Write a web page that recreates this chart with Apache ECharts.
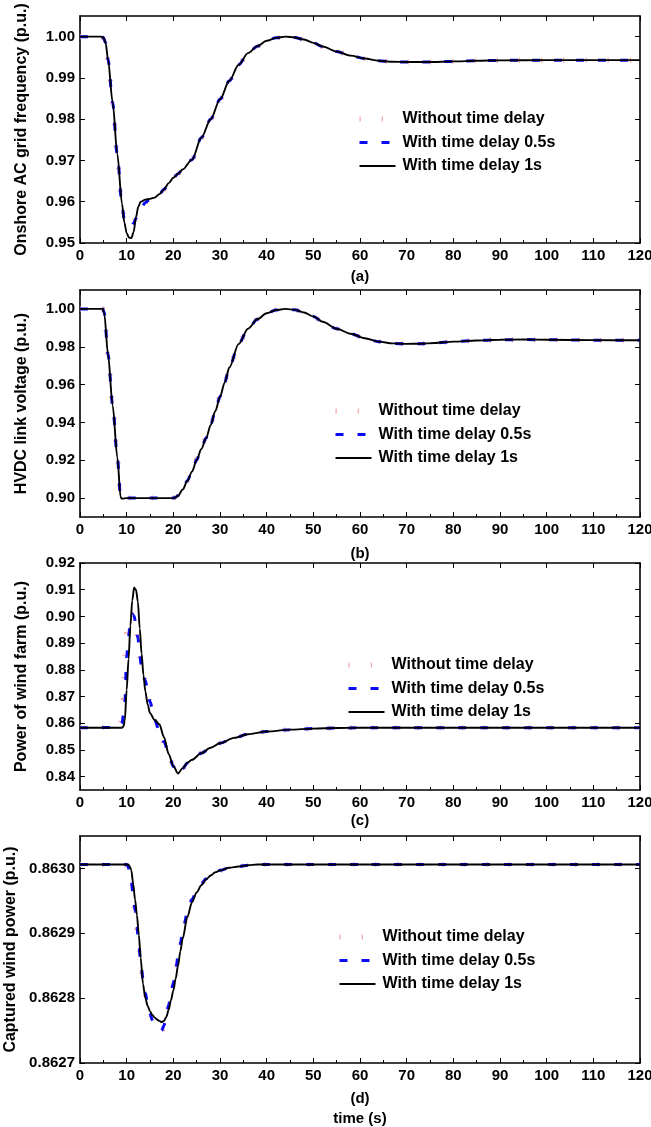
<!DOCTYPE html>
<html><head><meta charset="utf-8">
<script src="https://cdn.jsdelivr.net/npm/echarts@6/dist/echarts.min.js"></script>
<style>html,body{margin:0;padding:0;background:#fff}#c{width:651px;height:1127px}</style>
</head><body><div id="c"></div>
<script>
// ---------- DATA ----------
const seriesNames = ['Without time delay', 'With time delay 0.5s', 'With time delay 1s'];
const xTicks = [0, 10, 20, 30, 40, 50, 60, 70, 80, 90, 100, 110, 120];

// (a) Onshore AC grid frequency
const timeA = [0, 4.5, 5, 5.5, 6, 7, 8, 9, 9.5, 10, 10.5, 11, 11.5, 12, 12.5, 13, 14, 15, 16, 17, 18, 19, 20, 21, 22, 24, 26, 28, 30, 32, 34, 36, 38, 40, 42, 44, 46, 48, 50, 52, 55, 58, 61, 64, 67, 70, 75, 80, 85, 90, 100, 110, 120];
const freqDelay1 = [1.0000, 1.0000, 0.9998, 0.9985, 0.9945, 0.9840, 0.9715, 0.9595, 0.9550, 0.9524, 0.9513, 0.9512, 0.9527, 0.9563, 0.9588, 0.9600, 0.9605, 0.9607, 0.9610, 0.9618, 0.9630, 0.9645, 0.9658, 0.9668, 0.9678, 0.9702, 0.9755, 0.9800, 0.9848, 0.9893, 0.9932, 0.9960, 0.9977, 0.9990, 0.9997, 1.0000, 0.9998, 0.9993, 0.9985, 0.9976, 0.9964, 0.9954, 0.9947, 0.99415, 0.9939, 0.99385, 0.99385, 0.9940, 0.99415, 0.99425, 0.9943, 0.9943, 0.9943];
const freqDelay05 = [1.0000, 1.0000, 0.9998, 0.9985, 0.9945, 0.9840, 0.9712, 0.9592, 0.9556, 0.9546, 0.9541, 0.9542, 0.9548, 0.9560, 0.9572, 0.9583, 0.9598, 0.9606, 0.9610, 0.9618, 0.9630, 0.9645, 0.9658, 0.9668, 0.9678, 0.9702, 0.9755, 0.9800, 0.9848, 0.9893, 0.9932, 0.9960, 0.9977, 0.9990, 0.9997, 1.0000, 0.9998, 0.9993, 0.9985, 0.9976, 0.9964, 0.9954, 0.9947, 0.99415, 0.9939, 0.99385, 0.99385, 0.9940, 0.99415, 0.99425, 0.9943, 0.9943, 0.9943];
const freqNoDelay = [1.0000, 1.0000, 0.9997, 0.9983, 0.9942, 0.9838, 0.9710, 0.9590, 0.9558, 0.9548, 0.9544, 0.9545, 0.9551, 0.9562, 0.9574, 0.9585, 0.9599, 0.9606, 0.9610, 0.9618, 0.9630, 0.9645, 0.9658, 0.9668, 0.9678, 0.9702, 0.9755, 0.9800, 0.9848, 0.9893, 0.9932, 0.9960, 0.9977, 0.9990, 0.9997, 1.0000, 0.9998, 0.9993, 0.9985, 0.9976, 0.9964, 0.9954, 0.9947, 0.99415, 0.9939, 0.99385, 0.99385, 0.9940, 0.99415, 0.99425, 0.9943, 0.9943, 0.9943];
const freqTicks = [0.95, 0.96, 0.97, 0.98, 0.99, 1.00];

// (b) HVDC link voltage
const timeB = [0, 4.9, 5.2, 6, 7, 8, 8.7, 9, 10, 12, 14, 16, 18, 20, 20.5, 21, 22, 23, 24, 25, 26, 27, 28, 29, 30, 31, 32, 34, 36, 38, 40, 42, 44, 46, 48, 50, 52, 55, 58, 61, 64, 67, 70, 73, 76, 80, 85, 90, 95, 100, 110, 120];
const voltDelay1 = [1.0000, 1.0000, 0.9975, 0.9760, 0.9490, 0.9215, 0.9005, 0.8997, 0.9000, 0.9000, 0.9000, 0.9000, 0.9000, 0.9000, 0.9003, 0.9012, 0.9045, 0.9090, 0.9140, 0.9200, 0.9260, 0.9315, 0.9385, 0.9460, 0.9535, 0.9610, 0.9690, 0.9815, 0.9895, 0.9945, 0.9977, 0.9994, 1.0000, 0.9995, 0.9981, 0.9960, 0.9932, 0.9895, 0.9869, 0.9845, 0.9827, 0.9818, 0.9815, 0.9816, 0.9820, 0.9827, 0.9833, 0.9837, 0.9838, 0.9837, 0.9835, 0.9834];
const voltDelay05 = [1.0000, 1.0000, 0.9978, 0.9762, 0.9492, 0.9217, 0.9003, 0.9000, 0.9000, 0.9000, 0.9000, 0.9000, 0.9000, 0.9000, 0.9004, 0.9014, 0.9047, 0.9092, 0.9142, 0.9202, 0.9262, 0.9317, 0.9387, 0.9462, 0.9537, 0.9612, 0.9691, 0.9815, 0.9895, 0.9945, 0.9977, 0.9994, 1.0000, 0.9995, 0.9981, 0.9960, 0.9932, 0.9895, 0.9869, 0.9845, 0.9827, 0.9818, 0.9815, 0.9816, 0.9820, 0.9827, 0.9833, 0.9837, 0.9838, 0.9837, 0.9835, 0.9834];
const voltNoDelay = [1.0000, 1.0000, 0.9980, 0.9764, 0.9494, 0.9219, 0.9002, 0.9000, 0.9000, 0.9000, 0.9000, 0.9000, 0.9000, 0.9000, 0.9005, 0.9015, 0.9048, 0.9093, 0.9143, 0.9203, 0.9263, 0.9318, 0.9388, 0.9463, 0.9538, 0.9613, 0.9692, 0.9816, 0.9895, 0.9945, 0.9977, 0.9994, 1.0000, 0.9995, 0.9981, 0.9960, 0.9932, 0.9895, 0.9869, 0.9845, 0.9827, 0.9818, 0.9815, 0.9816, 0.9820, 0.9827, 0.9833, 0.9837, 0.9838, 0.9837, 0.9835, 0.9834];
const voltTicks = [0.90, 0.92, 0.94, 0.96, 0.98, 1.00];

// (c) Power of wind farm
const timeC = [0, 8.5, 9, 9.3, 9.6, 10, 10.4, 10.8, 11.2, 11.6, 12, 12.4, 12.8, 13.2, 13.6, 14, 14.5, 15, 16, 17, 18, 19, 20, 21, 22, 23, 24, 26, 28, 30, 33, 36, 40, 45, 50, 55, 60, 70, 80, 90, 100, 110, 120];
const powerDelay1 = [0.8583, 0.8583, 0.8583, 0.8588, 0.8610, 0.8725, 0.8840, 0.8965, 0.9060, 0.9108, 0.9100, 0.9055, 0.8955, 0.8860, 0.8780, 0.8720, 0.8670, 0.8638, 0.8612, 0.8596, 0.8548, 0.8485, 0.8440, 0.8412, 0.8432, 0.8452, 0.8463, 0.8488, 0.8508, 0.8525, 0.8545, 0.8559, 0.8569, 0.8576, 0.8580, 0.8582, 0.8583, 0.8583, 0.8583, 0.8583, 0.8583, 0.8583, 0.8583];
const powerDelay05 = [0.8583, 0.8584, 0.8600, 0.8630, 0.8676, 0.8850, 0.8923, 0.8985, 0.9008, 0.9002, 0.8965, 0.8920, 0.8852, 0.8812, 0.8786, 0.8760, 0.8722, 0.8680, 0.8612, 0.8570, 0.8530, 0.8488, 0.8438, 0.8412, 0.8430, 0.8451, 0.8463, 0.8488, 0.8508, 0.8525, 0.8545, 0.8559, 0.8569, 0.8576, 0.8580, 0.8582, 0.8583, 0.8583, 0.8583, 0.8583, 0.8583, 0.8583, 0.8583];
const powerNoDelay = [0.8583, 0.8586, 0.8620, 0.8690, 0.8860, 0.8940, 0.8990, 0.9012, 0.9010, 0.8985, 0.8945, 0.8905, 0.8848, 0.8812, 0.8786, 0.8760, 0.8722, 0.8680, 0.8610, 0.8565, 0.8527, 0.8485, 0.8437, 0.8412, 0.8430, 0.8451, 0.8463, 0.8488, 0.8508, 0.8525, 0.8545, 0.8559, 0.8569, 0.8576, 0.8580, 0.8582, 0.8583, 0.8583, 0.8583, 0.8583, 0.8583, 0.8583, 0.8583];
const powerTicks = [0.84, 0.85, 0.86, 0.87, 0.88, 0.89, 0.90, 0.91, 0.92];

// (d) Captured wind power
const timeD = [0, 10, 10.3, 10.6, 11, 11.4, 11.8, 12.2, 12.6, 13, 13.5, 14, 14.5, 15, 15.5, 16, 16.5, 17, 17.5, 18, 18.5, 19, 19.5, 20, 20.5, 21, 21.5, 22, 23, 24, 25, 26, 27, 28, 29, 30, 32, 34, 36, 38, 40, 50, 60, 80, 100, 120];
const captDelay1 = [0.863006, 0.863006, 0.863006, 0.863004, 0.862997, 0.862976, 0.862952, 0.862928, 0.862898, 0.862862, 0.862822, 0.862800, 0.862788, 0.862780, 0.862774, 0.862770, 0.862767, 0.862765, 0.862763, 0.862765, 0.862771, 0.862782, 0.862797, 0.862812, 0.862830, 0.862850, 0.862872, 0.862892, 0.862925, 0.862948, 0.862963, 0.862974, 0.862983, 0.862989, 0.862994, 0.862997, 0.863001, 0.863003, 0.863005, 0.863006, 0.863006, 0.863006, 0.863006, 0.863006, 0.863006, 0.863006];
const captDelay05 = [0.863006, 0.863006, 0.863003, 0.862996, 0.862980, 0.862958, 0.862935, 0.862910, 0.862882, 0.862856, 0.862830, 0.862808, 0.862790, 0.862776, 0.862766, 0.862759, 0.862755, 0.862752, 0.862750, 0.862758, 0.862773, 0.862790, 0.862806, 0.862824, 0.862843, 0.862864, 0.862884, 0.862902, 0.862932, 0.862952, 0.862966, 0.862976, 0.862984, 0.862990, 0.862994, 0.862997, 0.863001, 0.863003, 0.863005, 0.863006, 0.863006, 0.863006, 0.863006, 0.863006, 0.863006, 0.863006];
const captNoDelay = [0.863006, 0.863005, 0.863001, 0.862992, 0.862975, 0.862952, 0.862928, 0.862902, 0.862875, 0.862850, 0.862826, 0.862805, 0.862788, 0.862775, 0.862765, 0.862758, 0.862753, 0.862750, 0.862748, 0.862756, 0.862772, 0.862789, 0.862806, 0.862824, 0.862843, 0.862864, 0.862884, 0.862902, 0.862932, 0.862952, 0.862966, 0.862976, 0.862984, 0.862990, 0.862994, 0.862997, 0.863001, 0.863003, 0.863005, 0.863006, 0.863006, 0.863006, 0.863006, 0.863006, 0.863006, 0.863006];
const captTicks = [0.8627, 0.8628, 0.8629, 0.8630];

// ---------- LAYOUT / STYLE ----------
const FONT = '"Liberation Sans", Arial, Helvetica, sans-serif';
const panels = [
  { time: timeA, vals: [freqNoDelay, freqDelay05, freqDelay1], yMin: 0.95, yMax: 1.005, ticks: freqTicks, dec: 2,
    yName: 'Onshore AC grid frequency (p.u.)', xName: '(a)', top: 16, xGap: 24, legLeft: 357, legTop: 111 },
  { time: timeB, vals: [voltNoDelay, voltDelay05, voltDelay1], yMin: 0.89, yMax: 1.01, ticks: voltTicks, dec: 2,
    yName: 'HVDC link voltage (p.u.)', xName: '(b)', top: 290, xGap: 27, legLeft: 333, legTop: 403 },
  { time: timeC, vals: [powerNoDelay, powerDelay05, powerDelay1], yMin: 0.835, yMax: 0.92, ticks: powerTicks, dec: 2,
    yName: 'Power of wind farm (p.u.)', xName: '(c)', top: 563, xGap: 18, legLeft: 346, legTop: 657 },
  { time: timeD, vals: [captNoDelay, captDelay05, captDelay1], yMin: 0.8627, yMax: 0.86305, ticks: captTicks, dec: 4,
    yName: 'Captured wind power (p.u.)', xName: '(d)\ntime (s)', top: 836, xGap: 26, legLeft: 337, legTop: 929 }
];
const lineStyles = [
  { color: '#f4a2a2', width: 5, type: [1.2, 21], cap: 'butt' },
  { color: '#0a0af5', width: 3, type: [8, 14], cap: 'butt' },
  { color: '#000000', width: 1.9, type: 'solid' }
];
const axisLineStyle = { color: '#000', width: 1.6 };
const tickStyle = { color: '#000', width: 1 };

const grid = [], xAxis = [], yAxis = [], series = [], legend = [];
panels.forEach((p, i) => {
  grid.push({ left: 80, top: p.top, width: 560, height: 227, containLabel: false, outerBoundsMode: 'none' });
  xAxis.push({
    type: 'value', gridIndex: i, min: 0, max: 120, interval: 10, position: 'bottom',
    axisLine: { show: true, onZero: false, lineStyle: axisLineStyle },
    axisTick: { show: true, inside: true, length: 5, lineStyle: tickStyle, customValues: xTicks },
    minorTick: { show: true, splitNumber: 2, length: 3, lineStyle: tickStyle },
    splitLine: { show: false }, minorSplitLine: { show: false },
    axisLabel: { margin: 5, color: '#000', fontFamily: FONT, fontWeight: 'bold', fontSize: 15, customValues: xTicks },
    name: p.xName, nameLocation: 'middle', nameGap: p.xGap,
    nameTextStyle: { color: '#000', fontFamily: FONT, fontWeight: 'bold', fontSize: 15, lineHeight: 20, verticalAlign: 'top' }
  });
  xAxis.push({
    type: 'value', gridIndex: i, min: 0, max: 120, interval: 10, position: 'top',
    axisLine: { show: true, onZero: false, lineStyle: axisLineStyle },
    axisTick: { show: true, inside: true, length: 5, lineStyle: tickStyle, customValues: xTicks },
    axisLabel: { show: false }, splitLine: { show: false }
  });
  yAxis.push({
    type: 'value', gridIndex: i, min: p.yMin, max: p.yMax, position: 'left',
    axisLine: { show: true, onZero: false, lineStyle: axisLineStyle },
    axisTick: { show: true, inside: true, length: 5, lineStyle: tickStyle, customValues: p.ticks },
    splitLine: { show: false },
    axisLabel: { margin: 5, color: '#000', fontFamily: FONT, fontWeight: 'bold', fontSize: 15,
      customValues: p.ticks, formatter: (v) => Number(v).toFixed(p.dec) },
    name: p.yName, nameLocation: 'middle', nameRotate: 90, nameGap: 50,
    nameTextStyle: { color: '#000', fontFamily: FONT, fontWeight: 'bold', fontSize: 16 }
  });
  yAxis.push({
    type: 'value', gridIndex: i, min: p.yMin, max: p.yMax, position: 'right',
    axisLine: { show: true, onZero: false, lineStyle: axisLineStyle },
    axisTick: { show: true, inside: true, length: 5, lineStyle: tickStyle, customValues: p.ticks },
    axisLabel: { show: false }, splitLine: { show: false }
  });
  seriesNames.forEach((name, k) => {
    series.push({
      name, type: 'line', xAxisIndex: 2 * i, yAxisIndex: 2 * i,
      data: p.time.map((t, j) => [t, p.vals[k][j]]),
      smooth: 0.3, smoothMonotone: 'x', symbol: 'none', showSymbol: false,
      lineStyle: lineStyles[k], z: 2 + k, animation: false, silent: true
    });
  });
  legend.push({
    orient: 'vertical', left: p.legLeft, top: p.legTop, itemWidth: 36, itemHeight: 14, itemGap: 7.5,
    selectedMode: false, padding: 0,
    textStyle: { color: '#000', fontFamily: FONT, fontWeight: 'bold', fontSize: 16, padding: [0, 0, 0, 2] },
    data: seriesNames.map((name, k) => ({ name, lineStyle: Object.assign({}, lineStyles[k]),
      itemStyle: { color: 'rgba(0,0,0,0)', borderWidth: 0, opacity: 0 } }))
  });
});

const chart = echarts.init(document.getElementById('c'), null, { renderer: 'canvas' });
chart.setOption({ backgroundColor: '#fff', animation: false, grid, xAxis, yAxis, series, legend });
</script></body></html>
